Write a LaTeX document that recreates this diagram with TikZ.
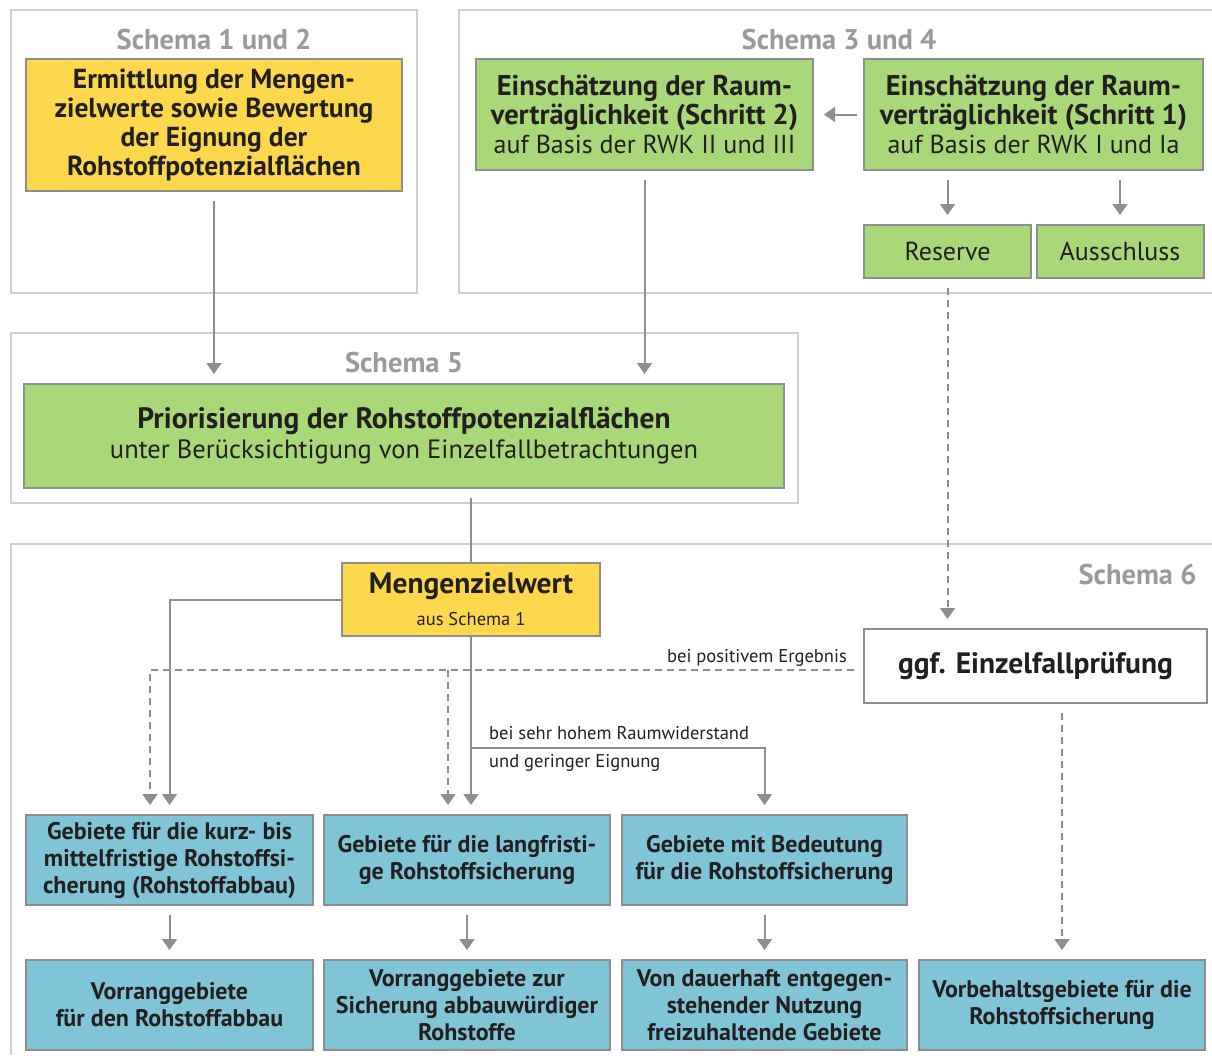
\documentclass[tikz,border=0pt]{standalone}
\usepackage{fontspec}
\setmainfont{PT Sans}
\usetikzlibrary{arrows.meta}
\definecolor{ylw}{HTML}{FDD84C}
\definecolor{grn}{HTML}{A9D879}
\definecolor{blu}{HTML}{80C4D8}
\definecolor{edge}{HTML}{8E8E8E}
\definecolor{frm}{HTML}{CFCFCF}
\definecolor{ttl}{HTML}{9A9A9A}
\definecolor{txt}{HTML}{231F20}
\newcommand{\fsz}[2]{\fontsize{#1}{#2}\selectfont}

\begin{document}
\begin{tikzpicture}[x=1pt, y=-1pt, line join=miter,
    box/.style={draw=edge, line width=2pt, align=center, inner sep=0pt, text=txt},
    ybox/.style={box, fill=ylw},
    gbox/.style={box, fill=grn},
    bbox/.style={box, fill=blu, font=\fsz{24}{27}\bfseries,
      minimum width=286pt, minimum height=90pt},
    wbox/.style={box, fill=white},
    frame/.style={draw=frm, line width=2pt},
    title/.style={text=ttl, font=\fsz{28.5}{30}\bfseries},
    line/.style={draw=edge, line width=2pt},
    conn/.style={line, -{Triangle[width=15pt,length=11pt]},
      shorten <=9pt, shorten >=9pt},
    dconn/.style={conn, dash pattern=on 7pt off 5pt},
    lbl/.style={text=txt, font=\fsz{18.5}{20}, inner sep=1pt}]
  \useasboundingbox (0,0) rectangle (1212,1055);

  % schema frames
  \draw[frame] (11,10) rectangle (417,293);
  \draw[frame] (1212,10) -- (459,10) -- (459,293) -- (1212,293);
  \draw[frame] (11,333) rectangle (798,503);
  \draw[frame] (1212,544) -- (11,544) -- (11,1055);
  \node[title] (t12) at (214,40) {Schema 1 und 2};
  \node[title] (t34) at (839,40) {Schema 3 und 4};
  \node[title] (t5) at (404,363) {Schema 5};
  \node[title, anchor=east] (t6) at (1200,575) {Schema 6};

  % Schema 1 to 4
  \node[ybox, font=\fsz{27.5}{29}\bfseries, minimum width=376pt, minimum height=132pt]
    (Y1) at (214,125) {Ermittlung der Mengen-\\zielwerte sowie Bewertung\\der Eignung der\\Rohstoffpotenzialflächen};
  \node[gbox, font=\fsz{26}{29}, minimum width=337pt, minimum height=111pt]
    (G2) at (644.5,114.5) {{\fsz{28.5}{29}\bfseries Einschätzung der Raum-}\\{\fsz{28.5}{29}\bfseries verträglichkeit (Schritt 2)}\\auf Basis der RWK II und III};
  \node[gbox, font=\fsz{26}{29}, minimum width=339pt, minimum height=111pt]
    (G1) at (1033.5,114.5) {{\fsz{28.5}{29}\bfseries Einschätzung der Raum-}\\{\fsz{28.5}{29}\bfseries verträglichkeit (Schritt 1)}\\auf Basis der RWK I und Ia};
  \node[gbox, font=\fsz{26}{28}, minimum width=167pt, minimum height=53pt]
    (Res) at (947.5,251.5) {Reserve};
  \node[gbox, font=\fsz{26}{28}, minimum width=167pt, minimum height=53pt]
    (Aus) at (1120,251.5) {Ausschluss};

  % Schema 5
  \node[gbox, font=\fsz{26.5}{30}, minimum width=760pt, minimum height=104pt]
    (P) at (404,436) {{\fsz{29.5}{30}\bfseries Priorisierung der Rohstoffpotenzialflächen}\\unter Berücksichtigung von Einzelfallbetrachtungen};

  % Schema 6
  \node[ybox, font=\fsz{18.5}{32}, minimum width=258pt, minimum height=73pt]
    (M) at (471,599.5) {{\fsz{29.5}{32}\bfseries Mengenzielwert}\\aus Schema 1};
  \node[wbox, font=\fsz{29.5}{30}\bfseries, minimum width=343pt, minimum height=74pt]
    (E) at (1035.5,666) {ggf. Einzelfallprüfung};
  \node[bbox, minimum width=287pt] (B1) at (169.5,860) {Gebiete für die kurz- bis\\mittelfristige Rohstoffsi-\\cherung (Rohstoffabbau)};
  \node[bbox] (B2) at (467,860) {Gebiete für die langfristi-\\ge Rohstoffsicherung};
  \node[bbox, minimum width=285pt] (B3) at (764.5,860) {Gebiete mit Bedeutung\\für die Rohstoffsicherung};
  \node[bbox, minimum width=287pt] (C1) at (169.5,1005) {Vorranggebiete\\für den Rohstoffabbau};
  \node[bbox] (C2) at (467,1005) {Vorranggebiete zur\\Sicherung abbauwürdiger\\Rohstoffe};
  \node[bbox, minimum width=285pt] (C3) at (764.5,1005) {Von dauerhaft entgegen-\\stehender Nutzung\\freizuhaltende Gebiete};
  \node[bbox] (C4) at (1062,1005) {Vorbehaltsgebiete für die\\Rohstoffsicherung};

  % connectors
  \draw[conn] (Y1.south) -- (Y1.south |- P.north);
  \draw[conn] (G2.south) -- (G2.south |- P.north);
  \draw[conn, shorten <=6pt, shorten >=10pt] (G1.west) -- (G2.east);
  \draw[conn] (Res.north |- G1.south) -- (Res.north);
  \draw[conn] (Aus.north |- G1.south) -- (Aus.north);
  \draw[dconn] (Res.south) -- (Res.south |- E.north);
  \draw[line, shorten <=9pt] (M.north |- P.south) -- (M.north);
  \draw[conn, shorten <=0pt] (M.west) -| (B1.north);
  \draw[conn, shorten <=0pt] (M.south) -- (M.south |- B2.north);
  \coordinate (split) at (M.south |- 0,748);
  \draw[conn, shorten <=0pt] (split) -| (B3.north);
  \node[lbl, anchor=west] (lblhigh) at (488,733) {bei sehr hohem Raumwiderstand};
  \node[lbl, anchor=west] (lbllow) at (488,763) {und geringer Eignung};

  \coordinate (dl) at (150,670);
  \coordinate (dm) at (448,670);
  \draw[dconn] (E.west |- dl) -- (dl) -- (dl |- B1.north);
  \draw[dconn, shorten <=0pt] (dm) -- (dm |- B2.north);
  \node[lbl, anchor=east] (lblpos) at (848,658) {bei positivem Ergebnis};
  \draw[dconn] (C4.north |- E.south) -- (C4.north);

  \draw[conn] (B1.south) -- (C1.north);
  \draw[conn] (B2.south) -- (C2.north);
  \draw[conn] (B3.south) -- (C3.north);
\end{tikzpicture}
\end{document}
